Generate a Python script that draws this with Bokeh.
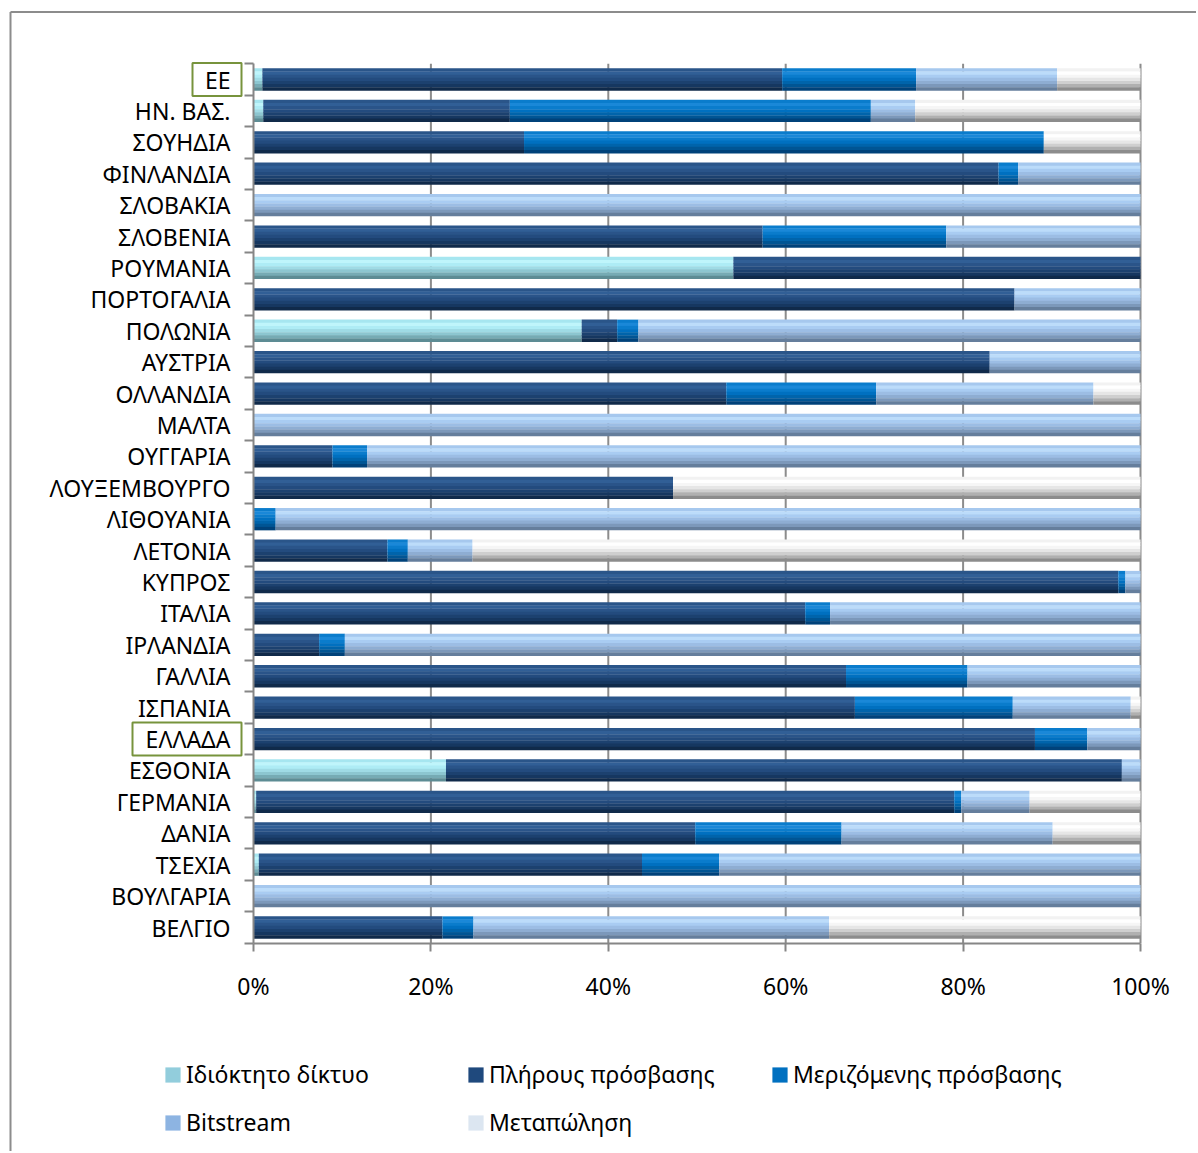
from bokeh.plotting import figure
from bokeh.models import (ColumnDataSource, FixedTicker, Legend, LegendItem,
                          BoxAnnotation, Range1d)
from bokeh.transform import dodge
from bokeh.embed import file_html
from bokeh.resources import INLINE
import numpy as np

# ---------------- data (top to bottom, percent of lines) ----------------
countries = ["ΕΕ", "ΗΝ. ΒΑΣ.", "ΣΟΥΗΔΙΑ", "ΦΙΝΛΑΝΔΙΑ", "ΣΛΟΒΑΚΙΑ", "ΣΛΟΒΕΝΙΑ",
             "ΡΟΥΜΑΝΙΑ", "ΠΟΡΤΟΓΑΛΙΑ", "ΠΟΛΩΝΙΑ", "ΑΥΣΤΡΙΑ", "ΟΛΛΑΝΔΙΑ", "ΜΑΛΤΑ",
             "ΟΥΓΓΑΡΙΑ", "ΛΟΥΞΕΜΒΟΥΡΓΟ", "ΛΙΘΟΥΑΝΙΑ", "ΛΕΤΟΝΙΑ", "ΚΥΠΡΟΣ",
             "ΙΤΑΛΙΑ", "ΙΡΛΑΝΔΙΑ", "ΓΑΛΛΙΑ", "ΙΣΠΑΝΙΑ", "ΕΛΛΑΔΑ", "ΕΣΘΟΝΙΑ",
             "ΓΕΡΜΑΝΙΑ", "ΔΑΝΙΑ", "ΤΣΕΧΙΑ", "ΒΟΥΛΓΑΡΙΑ", "ΒΕΛΓΙΟ"]
own       = [1.0, 1.1, 0, 0, 0, 0, 54.1, 0, 37.0, 0, 0, 0, 0, 0, 0, 0, 0,
             0, 0, 0, 0, 0, 21.7, 0.3, 0, 0.6, 0, 0]
full      = [58.6, 27.8, 30.5, 84.0, 0, 57.4, 45.9, 85.8, 4.0, 83.0, 53.3, 0,
             8.9, 47.3, 0, 15.1, 97.5, 62.2, 7.4, 66.8, 67.8, 88.1, 76.2, 78.7,
             49.8, 43.2, 0, 21.3]
shared    = [15.1, 40.7, 58.6, 2.2, 0, 20.7, 0, 0, 2.4, 0, 16.9, 0,
             3.9, 0, 2.5, 2.3, 0.8, 2.8, 2.9, 13.7, 17.8, 5.9, 0, 0.8,
             16.5, 8.7, 0, 3.5]
bitstream = [15.9, 5.0, 0, 13.8, 100, 21.9, 0, 14.2, 56.6, 17.0, 24.5, 100,
             87.2, 0, 97.5, 7.3, 1.7, 35.0, 89.7, 19.5, 13.3, 6.0, 2.1, 7.7,
             23.8, 47.5, 100, 40.1]
resale    = [9.4, 25.4, 10.9, 0, 0, 0, 0, 0, 0, 0, 5.3, 0,
             0, 52.7, 0, 75.3, 0, 0, 0, 0, 1.1, 0, 0, 12.5,
             9.9, 0, 0, 35.1]
series_names = ["Ιδιόκτητο δίκτυο", "Πλήρους πρόσβασης", "Μεριζόμενης πρόσβασης",
                "Bitstream", "Μεταπώληση"]
x_ticks = [0, 20, 40, 60, 80, 100]
x_tick_labels = ["0%", "20%", "40%", "60%", "80%", "100%"]
highlighted = ["ΕΕ", "ΕΛΛΑΔΑ"]

# ---------------- styling / layout ----------------
legend_colors = ["#92CDDC", "#1F497D", "#0070C0", "#8DB4E2", "#DCE6F1"]
band_colors = [
    ["#a6e6f0", "#bff5fb", "#aeecf5", "#9fdbe5", "#8cc6d0", "#76abb4", "#5d8c94"],
    ["#2a5589", "#315f96", "#2a5489", "#234b7e", "#1c416f", "#163760", "#102a4a"],
    ["#0a7ccc", "#1a88d8", "#0a7ccc", "#0070c0", "#0064ab", "#005594", "#00427a"],
    ["#a6c8ee", "#bcdcfa", "#a9ccf2", "#9cbde4", "#8eadd2", "#7c98ba", "#657e9c"],
    ["#f2f2f2", "#ffffff", "#f6f6f6", "#e6e6e6", "#cfcfcf", "#b0b0b0", "#8c8c8c"],
]
FONT = "Noto Sans"
FS = "23px"
GRAY = "#868686"

W, H = 1196, 1151
PX0, PX100 = 253.0, 1140.0          # screen x of 0% and 100%
ROW_TOP_PX, ROW_BOT_PX = 79.0, 927.0  # screen y of first and last row centre

n = len(countries)
ypos = [n - 1 - i for i in range(n)]
vals = np.array([own, full, shared, bitstream, resale], dtype=float)
cum = np.cumsum(vals, axis=0)
lefts = cum - vals

sx = (PX100 - PX0) / 100.0
sy = (ROW_BOT_PX - ROW_TOP_PX) / (n - 1)
xmin, xmax = -PX0 / sx, (W - PX0) / sx
ymax = (n - 1) + ROW_TOP_PX / sy
ymin = ymax - H / sy

p = figure(width=W, height=H, output_backend="svg", toolbar_location=None,
           title=None, x_range=Range1d(xmin, xmax), y_range=Range1d(ymin, ymax),
           min_border=0)
p.outline_line_color = None
p.xgrid.visible = False
p.ygrid.visible = False

# outer chart border (left and top)
bx = xmin + 10 / sx
by = ymax - 11.5 / sy
p.segment(x0=[bx, bx], y0=[by, by], x1=[xmax, bx], y1=[by, ymin],
          line_color="#8c8c8c", line_width=2)

# vertical grid lines between the first and last category
p.segment(x0=x_ticks[1:], x1=x_ticks[1:], y0=[-0.5] * (len(x_ticks) - 1),
          y1=[n - 0.5] * (len(x_ticks) - 1), line_color="#8c8c8c", line_width=2)

# stacked bars, with cylinder-like shading bands
bar_h = 0.70
nb = len(band_colors[0])
bh = bar_h / nb
for s in range(len(series_names)):
    src = ColumnDataSource(dict(y=ypos, left=lefts[s], right=cum[s]))
    for k in range(nb):
        off = bar_h / 2 - (k + 0.5) * bh
        p.hbar(y=dodge("y", off), left="left", right="right", height=bh * 1.1,
               fill_color=band_colors[s][k], line_color=None, source=src)

# legend proxies (flat legend colours, zero-width so nothing shows in the plot)
proxies = []
for s in range(len(series_names)):
    r = p.hbar(y=ypos[-1:], left=[0], right=[0], height=0.5,
               fill_color=legend_colors[s], line_color=None)
    proxies.append(r)

# axes at fixed data locations
xa = p.xaxis[0]
xa.fixed_location = -0.5
xa.bounds = (0, 100)
xa.ticker = FixedTicker(ticks=x_ticks, minor_ticks=[])
xa.major_label_overrides = dict(zip(x_ticks, x_tick_labels))
xa.major_tick_out = 8
xa.major_tick_in = 0
xa.major_tick_line_color = GRAY
xa.major_tick_line_width = 2
xa.axis_line_color = GRAY
xa.axis_line_width = 2
xa.major_label_standoff = 19
xa.major_label_text_font = FONT
xa.major_label_text_font_size = FS
xa.major_label_text_color = "black"

ya = p.yaxis[0]
ya.fixed_location = 0
ya.bounds = (-0.5, n - 0.5)
ya.ticker = FixedTicker(ticks=ypos, minor_ticks=[i - 0.5 for i in range(n + 1)])
ya.major_label_overrides = {y: c for y, c in zip(ypos, countries)}
ya.major_tick_out = 0
ya.major_tick_in = 0
ya.minor_tick_out = 9
ya.minor_tick_in = 0
ya.minor_tick_line_color = GRAY
ya.minor_tick_line_width = 2
ya.axis_line_color = GRAY
ya.axis_line_width = 2
ya.major_label_standoff = 14
ya.major_label_text_font = FONT
ya.major_label_text_font_size = FS
ya.major_label_text_color = "black"

# green boxes around highlighted labels
box_px = {"ΕΕ": (192, 241), "ΕΛΛΑΔΑ": (132, 241)}
for name in highlighted:
    y = ypos[countries.index(name)]
    l_px, r_px = box_px[name]
    p.add_layout(BoxAnnotation(left=(l_px - PX0) / sx, right=(r_px - PX0) / sx,
                               bottom=y - 0.525, top=y + 0.525,
                               fill_alpha=0, line_color="#77933C", line_alpha=1,
                               line_width=2))

# legends: three columns (Excel-like 3 x 2 grid)
cols = [[0, 3], [1, 4], [2]]
col_x = [163, 466, 770]
for c, idxs in enumerate(cols):
    items = [LegendItem(label=series_names[s], renderers=[proxies[s]]) for s in idxs]
    vy = H - 1138 if len(idxs) == 2 else H - 1090
    leg = Legend(items=items, location=(col_x[c], vy), orientation="vertical",
                 border_line_color=None, background_fill_alpha=0, padding=0, margin=0,
                 spacing=16, label_standoff=4, glyph_width=19, glyph_height=19,
                 label_height=30, label_text_font=FONT, label_text_font_size=FS,
                 label_text_color="black")
    p.add_layout(leg)

open("out.html", "w").write(file_html(p, INLINE))
